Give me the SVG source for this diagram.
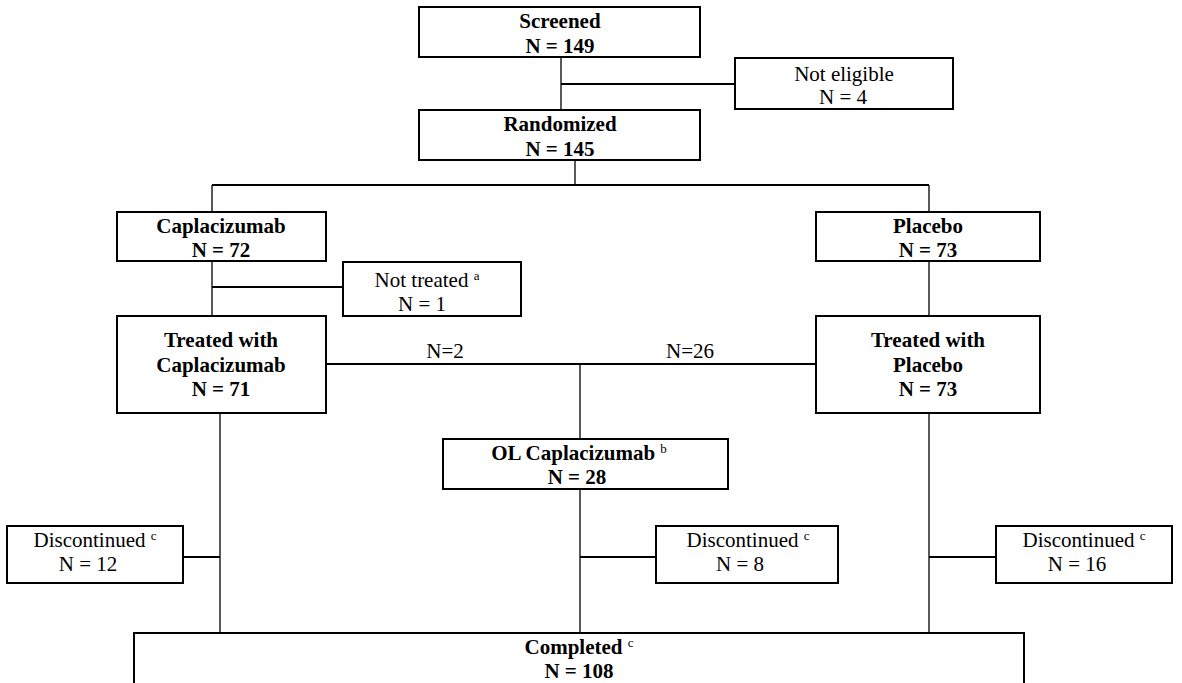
<svg xmlns="http://www.w3.org/2000/svg" width="1182" height="683" viewBox="0 0 1182 683">
<style>
.box{fill:#fff;stroke:#000;stroke-width:2}
.b{font-family:"Liberation Serif","Times New Roman",serif;font-size:21px;font-weight:bold;text-anchor:middle;fill:#000}
.r{font-family:"Liberation Serif","Times New Roman",serif;font-size:21px;text-anchor:middle;fill:#000}
.v{stroke:#000;stroke-width:1.3;fill:none}
.h{stroke:#000;stroke-width:2;fill:none}
.sup{font-size:13px;font-weight:normal}
</style>
<rect width="1182" height="683" fill="#fff"/>
<g id="connectors">
<line class="v" x1="561" y1="57" x2="561" y2="110"/>
<line class="h" x1="561" y1="84" x2="735" y2="84"/>
<line class="v" x1="575" y1="160" x2="575" y2="185"/>
<line class="h" x1="212" y1="185" x2="929" y2="185"/>
<line class="v" x1="212" y1="185" x2="212" y2="212"/>
<line class="v" x1="929" y1="185" x2="929" y2="212"/>
<line class="v" x1="212" y1="261" x2="212" y2="316"/>
<line class="h" x1="212" y1="287" x2="343" y2="287"/>
<line class="v" x1="929" y1="261" x2="929" y2="316"/>
<line class="h" x1="326" y1="364" x2="816" y2="364"/>
<line class="v" x1="580" y1="364" x2="580" y2="439"/>
<line class="v" x1="220" y1="413" x2="220" y2="633"/>
<line class="h" x1="183" y1="557" x2="220" y2="557"/>
<line class="v" x1="580" y1="489" x2="580" y2="633"/>
<line class="h" x1="580" y1="557" x2="656" y2="557"/>
<line class="v" x1="929" y1="413" x2="929" y2="633"/>
<line class="h" x1="929" y1="557" x2="996" y2="557"/>
<text class="r" x="445" y="358">N=2</text>
<text class="r" x="690" y="358">N=26</text>
</g>
<g id="screened">
<rect class="box" x="419" y="7" width="281" height="50"/>
<text class="b" x="560" y="28">Screened</text>
<text class="b" x="560" y="53">N = 149</text>
</g>
<g id="not-eligible">
<rect class="box" x="735" y="58" width="218" height="51"/>
<text class="r" x="844" y="81">Not eligible</text>
<text class="r" x="843" y="104">N = 4</text>
</g>
<g id="randomized">
<rect class="box" x="419" y="110" width="281" height="50"/>
<text class="b" x="560" y="131">Randomized</text>
<text class="b" x="560" y="156">N = 145</text>
</g>
<g id="caplacizumab">
<rect class="box" x="117" y="212" width="209" height="49"/>
<text class="b" x="221" y="233">Caplacizumab</text>
<text class="b" x="221" y="257">N = 72</text>
</g>
<g id="placebo">
<rect class="box" x="816" y="212" width="224" height="49"/>
<text class="b" x="928" y="233">Placebo</text>
<text class="b" x="928" y="257">N = 73</text>
</g>
<g id="not-treated">
<rect class="box" x="343" y="262" width="178" height="54"/>
<text class="r" x="427" y="287">Not treated <tspan class="sup" dy="-7">a</tspan></text>
<text class="r" x="422" y="311">N = 1</text>
</g>
<g id="treated-caplacizumab">
<rect class="box" x="117" y="316" width="209" height="97"/>
<text class="b" x="221" y="347">Treated with</text>
<text class="b" x="221" y="372">Caplacizumab</text>
<text class="b" x="221" y="396">N = 71</text>
</g>
<g id="treated-placebo">
<rect class="box" x="816" y="316" width="224" height="97"/>
<text class="b" x="928" y="347">Treated with</text>
<text class="b" x="928" y="372">Placebo</text>
<text class="b" x="928" y="396">N = 73</text>
</g>
<g id="ol-caplacizumab">
<rect class="box" x="443" y="439" width="285" height="50"/>
<text class="b" x="579" y="460">OL Caplacizumab  <tspan class="sup" dy="-7">b</tspan></text>
<text class="b" x="577" y="484">N = 28</text>
</g>
<g id="discontinued-capla">
<rect class="box" x="7" y="526" width="176" height="57"/>
<text class="r" x="95" y="547">Discontinued <tspan class="sup" dy="-7">c</tspan></text>
<text class="r" x="88" y="571">N = 12</text>
</g>
<g id="discontinued-ol">
<rect class="box" x="656" y="526" width="182" height="57"/>
<text class="r" x="748" y="547">Discontinued <tspan class="sup" dy="-7">c</tspan></text>
<text class="r" x="740" y="571">N = 8</text>
</g>
<g id="discontinued-placebo">
<rect class="box" x="996" y="526" width="176" height="57"/>
<text class="r" x="1084" y="547">Discontinued <tspan class="sup" dy="-7">c</tspan></text>
<text class="r" x="1077" y="571">N = 16</text>
</g>
<g id="completed">
<rect class="box" x="134" y="633" width="890" height="70"/>
<text class="b" x="579" y="654">Completed <tspan class="sup" dy="-7">c</tspan></text>
<text class="b" x="579" y="678">N = 108</text>
</g>
</svg>
